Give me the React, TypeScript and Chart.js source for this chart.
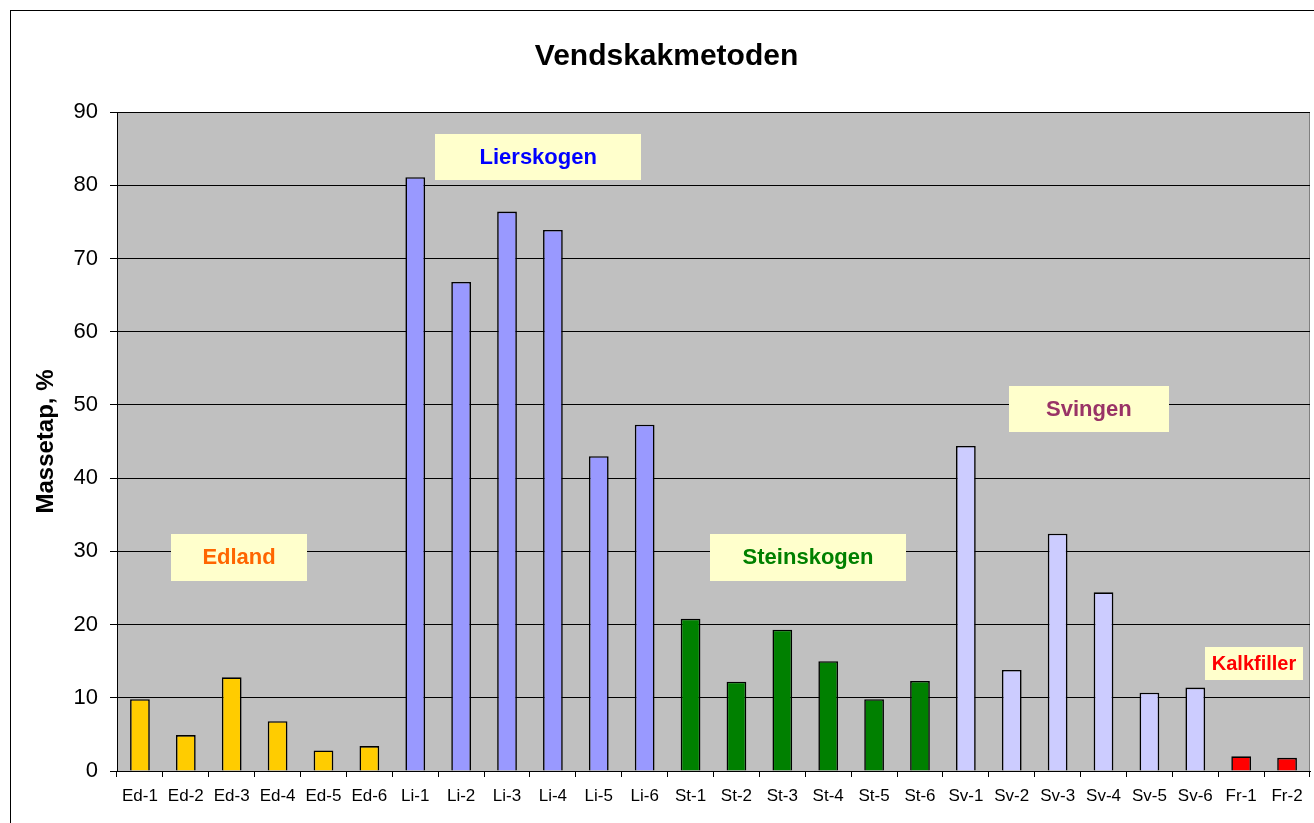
import React, { useEffect, useRef } from "react";
import { Chart, registerables } from "chart.js";

Chart.register(...registerables);

const edCategories = ["Ed-1", "Ed-2", "Ed-3", "Ed-4", "Ed-5", "Ed-6"];
const liCategories = ["Li-1", "Li-2", "Li-3", "Li-4", "Li-5", "Li-6"];
const stCategories = ["St-1", "St-2", "St-3", "St-4", "St-5", "St-6"];
const svCategories = ["Sv-1", "Sv-2", "Sv-3", "Sv-4", "Sv-5", "Sv-6"];
const frCategories = ["Fr-1", "Fr-2"];

const edValues = [9.8, 4.9, 12.8, 6.8, 2.8, 3.4];
const liValues = [81.1, 66.8, 76.4, 73.9, 43.0, 47.3];
const stValues = [20.8, 12.2, 19.3, 15.0, 9.8, 12.3];
const svValues = [44.4, 13.8, 32.4, 24.4, 10.7, 11.4];
const frValues = [2.0, 1.8];

const groupColors = ["#FFCC00", "#9999FF", "#008000", "#CCCCFF", "#FF0000"];

const yTicks = [0, 10, 20, 30, 40, 50, 60, 70, 80, 90];

const chartTitle = "Vendskakmetoden";
const yAxisTitle = "Massetap, %";

// group labels: text, colour, centre (category index, value), box size
const groupLabels = ["Edland", "Lierskogen", "Steinskogen", "Svingen", "Kalkfiller"];
const groupLabelColors = ["#FF6600", "#0000FF", "#008000", "#993366", "#FF0000"];
const groupLabelX = [2.16, 8.68, 14.56, 20.68, 24.28];
const groupLabelY = [29.2, 83.9, 29.2, 49.4, 14.7];
const groupLabelW = [136, 206, 196, 160, 98];
const groupLabelH = [47, 46, 47, 46, 33];
const groupLabelFont = [22, 22, 22, 22, 20];

const FONT = 'Arial, "Liberation Sans", Helvetica, sans-serif';

export default function App() {
  const ref = useRef<HTMLCanvasElement | null>(null);

  useEffect(() => {
    if (!ref.current) return;
    const groups = [
      [edCategories, edValues],
      [liCategories, liValues],
      [stCategories, stValues],
      [svCategories, svValues],
      [frCategories, frValues],
    ] as [string[], number[]][];
    const labels: string[] = [];
    const data: number[] = [];
    const colors: string[] = [];
    groups.forEach(([cats, vals], gi) => {
      cats.forEach((c, i) => {
        labels.push(c);
        data.push(vals[i]);
        colors.push(groupColors[gi]);
      });
    });

    const decor = {
      id: "decor",
      beforeDraw(chart: any) {
        const { ctx, chartArea } = chart;
        ctx.save();
        ctx.fillStyle = "#FFFFFF";
        ctx.fillRect(0, 0, chart.width, chart.height);
        ctx.strokeStyle = "#000000";
        ctx.lineWidth = 1;
        ctx.strokeRect(10.5, 10.5, 3000, 3000);
        ctx.fillStyle = "#C0C0C0";
        ctx.fillRect(chartArea.left, chartArea.top, chartArea.right - chartArea.left, chartArea.bottom - chartArea.top);
        ctx.strokeStyle = "#808080";
        ctx.strokeRect(chartArea.left + 0.5, chartArea.top + 0.5, chartArea.right - chartArea.left - 1, chartArea.bottom - chartArea.top);
        // chart title
        ctx.fillStyle = "#000000";
        ctx.font = `bold 30px ${FONT}`;
        ctx.textAlign = "center";
        ctx.textBaseline = "alphabetic";
        ctx.fillText(chartTitle, 666.5, 65);
        ctx.restore();
      },
      afterDatasetsDraw(chart: any) {
        const { ctx } = chart;
        const xs = chart.scales.x;
        const ys = chart.scales.y;
        ctx.save();
        groupLabels.forEach((t, i) => {
          const base = xs.getPixelForValue(Math.floor(groupLabelX[i]));
          const next = xs.getPixelForValue(Math.floor(groupLabelX[i]) + 1);
          const cx = base + (next - base) * (groupLabelX[i] - Math.floor(groupLabelX[i]));
          const cy = ys.getPixelForValue(groupLabelY[i]);
          const w = groupLabelW[i];
          const h = groupLabelH[i];
          ctx.fillStyle = "#FFFFCC";
          ctx.fillRect(Math.round(cx - w / 2), Math.round(cy - h / 2), w, h);
          ctx.fillStyle = groupLabelColors[i];
          ctx.font = `bold ${groupLabelFont[i]}px ${FONT}`;
          ctx.textAlign = "center";
          ctx.textBaseline = "middle";
          ctx.fillText(t, cx, cy + 1);
        });
        ctx.restore();
      },
    };

    const chart = new Chart(ref.current, {
      type: "bar",
      data: {
        labels,
        datasets: [
          {
            data,
            backgroundColor: colors,
            borderColor: "#000000",
            borderWidth: 1.6,
            barPercentage: 0.43,
            categoryPercentage: 1,
          },
        ],
      },
      options: {
        responsive: false,
        animation: false,
        layout: { padding: { left: 0, right: 4, top: 112, bottom: 0 } },
        plugins: {
          legend: { display: false },
          tooltip: { enabled: false },
          title: { display: false },
        },
        scales: {
          x: {
            grid: { drawOnChartArea: false, drawTicks: true, tickLength: 6, color: "#000000" },
            border: { color: "#000000", width: 1 },
            ticks: {
              color: "#000000",
              font: { family: FONT, size: 17 },
              maxRotation: 0,
              autoSkip: false,
              padding: 9,
            },
            afterFit(scale: any) {
              scale.height = 52;
            },
          },
          y: {
            min: 0,
            max: 90,
            afterBuildTicks(scale: any) {
              scale.ticks = yTicks.map((v) => ({ value: v }));
            },
            grid: { color: "#000000", lineWidth: 1, tickLength: 7 },
            border: { color: "#000000", width: 1 },
            ticks: {
              color: "#000000",
              font: { family: FONT, size: 22 },
              padding: 12,
            },
            title: {
              display: true,
              text: yAxisTitle,
              color: "#000000",
              font: { family: FONT, size: 24, weight: "bold" },
              padding: { top: 32, bottom: 0 },
            },
            afterFit(scale: any) {
              scale.width = 117;
            },
          },
        },
      },
      plugins: [decor],
    });
    return () => chart.destroy();
  }, []);

  return (
    <div style={{ position: "absolute", left: 0, top: 0, width: 1314, height: 823, overflow: "hidden" }}>
      <canvas ref={ref} width={1314} height={823} style={{ display: "block" }} />
    </div>
  );
}
